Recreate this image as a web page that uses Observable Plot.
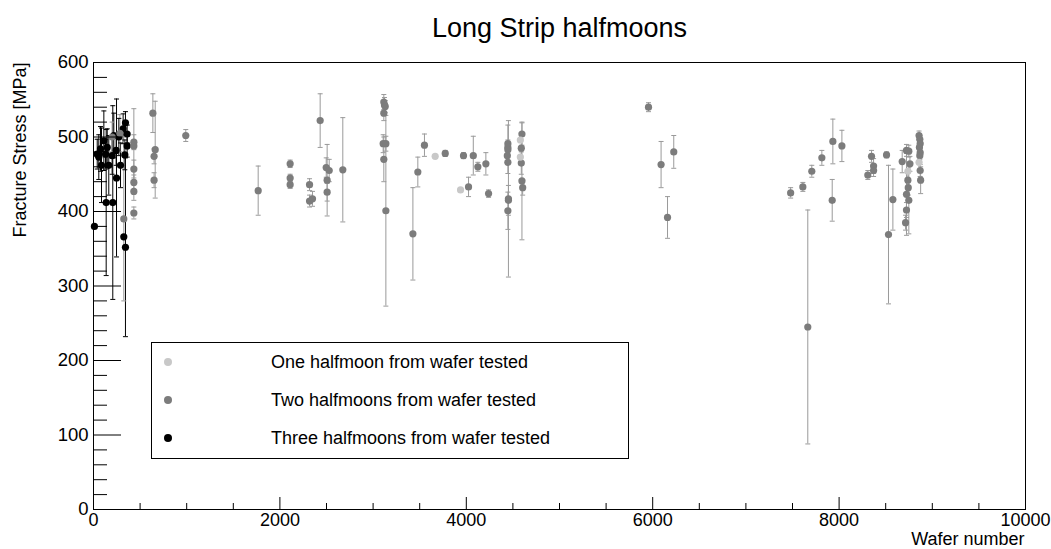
<!DOCTYPE html>
<html>
<head>
<meta charset="utf-8">
<script src="https://cdn.jsdelivr.net/npm/d3@7"></script>
<script src="https://cdn.jsdelivr.net/npm/@observablehq/plot@0.6"></script>
<style>
  body { margin: 0; background: #fff; }
  #wrap { position: relative; width: 1051px; height: 549px; }
  .legend { position: absolute; left: 151px; top: 342px; width: 476px; height: 115px;
            border: 1px solid #000; background: #fff;
            font-family: "Liberation Sans", Arial, sans-serif; font-size: 18px; color: #000; }
  .row { position: absolute; left: 0; height: 20px; width: 100%; }
  .mk { position: absolute; left: 12px; top: 6px; width: 8px; height: 8px; border-radius: 50%; }
  .lb { position: absolute; left: 119px; top: 0; line-height: 20px; white-space: nowrap; }
</style>
</head>
<body>
<div id="wrap"></div>
<script>
// ---- data ----
const title = "Long Strip halfmoons";
const xLabel = "Wafer number";
const yLabel = "Fracture Stress [MPa]";
const seriesNames = ["One halfmoon from wafer tested", "Two halfmoons from wafer tested", "Three halfmoons from wafer tested"];
const seriesColors = ["#c8c8c8", "#7c7c7c", "#000000"];
const errColors = ["#c8c8c8", "#9a9a9a", "#000000"];

const xTicks = [0, 2000, 4000, 6000, 8000, 10000];
const yTicks = [0, 100, 200, 300, 400, 500, 600];

const oneWafer  = [3666, 3938, 4580, 4580, 8738, 8858];
const oneStress = [474, 429, 496, 473, 454, 466];
const oneErr    = [0, 0, 0, 0, 0, 0];

const twoWafer = [200, 283, 325, 433, 433, 433, 433, 433, 433, 637, 662, 650, 650, 990, 1767,
  2110, 2110, 2110, 2318, 2318, 2350, 2432, 2497, 2529, 2507, 2507, 2675,
  3115, 3122, 3130, 3115, 3108, 3137, 3115, 3137, 3427, 3480, 3551, 3774, 3970, 4024, 4075, 4124, 4210, 4239,
  4446, 4446, 4446, 4440, 4446, 4452, 4452, 4446, 4597, 4590, 4590, 4597, 4605,
  5955, 6090, 6226, 6159, 7480, 7611, 7707, 7664, 7815, 7933, 7926, 8030,
  8308, 8348, 8370, 8370, 8509, 8530, 8577, 8677, 8723, 8748, 8760, 8738, 8742, 8723, 8748, 8723, 8713,
  8858, 8866, 8870, 8862, 8870, 8866, 8870, 8875];
const twoStress = [500, 505, 390, 493, 488, 457, 439, 427, 398, 532, 483, 474, 442, 502, 428,
  464, 445, 436, 436, 414, 417, 522, 459, 455, 442, 426, 456,
  547, 543, 541, 532, 491, 491, 470, 401, 370, 453, 489, 478, 475, 433, 475, 460, 464, 424,
  491, 486, 483, 475, 466, 417, 415, 401, 504, 485, 465, 441, 432,
  540, 463, 480, 392, 425, 433, 454, 245, 472, 494, 415, 488,
  449, 474, 461, 455, 476, 369, 416, 467, 482, 481, 464, 442, 432, 423, 415, 402, 385,
  502, 497, 491, 486, 479, 475, 455, 442];
const twoErr = [20, 25, 110, 10, 50, 12, 10, 12, 8, 26, 65, 10, 10, 8, 33,
  5, 5, 5, 8, 8, 10, 36, 13, 15, 48, 12, 70,
  10, 10, 8, 10, 12, 10, 30, 128, 62, 20, 15, 4, 4, 13, 26, 6, 15, 5,
  25, 10, 8, 10, 15, 105, 20, 25, 15, 20, 15, 79, 10,
  6, 31, 22, 28, 7, 6, 8, 157, 10, 30, 28, 21,
  6, 8, 10, 8, 4, 93, 41, 15, 8, 8, 10, 10, 10, 55, 45, 10, 10,
  6, 5, 5, 5, 5, 5, 8, 18];

const threeWafer  = [10, 136, 207, 247, 325, 343, 343, 318, 272, 75, 111, 57, 86, 164, 129, 200, 243, 290, 361, 361, 336, 147, 40, 218];
const threeStress = [380, 412, 412, 445, 366, 352, 519, 511, 500, 484, 495, 473, 462, 462, 477, 475, 482, 462, 504, 488, 476, 486, 477, 502];
const threeErr    = [0, 98, 130, 106, 0, 120, 15, 20, 25, 30, 40, 30, 50, 40, 20, 25, 20, 30, 12, 15, 20, 25, 20, 30];

// ---- build table ----
const series = [
  {k: 0, w: oneWafer, s: oneStress, e: oneErr},
  {k: 1, w: twoWafer, s: twoStress, e: twoErr},
  {k: 2, w: threeWafer, s: threeStress, e: threeErr}
];
const rows = series.flatMap(({k, w, s, e}) => w.map((x, i) => ({k, x, y: s[i], e: e[i]})));
const order = [2, 1, 0];
const ordered = order.flatMap(k => rows.filter(r => r.k === k));
const withErr = ordered.filter(r => r.e > 0);

const W = 1051, H = 549;
const mL = 93, mR = 26, mT = 62, mB = 40;
const fw = W - mL - mR, fh = H - mT - mB;
const font = "Liberation Sans, Arial, sans-serif";

const cap = {draw(ctx, size) { const r = Math.sqrt(size / Math.PI); ctx.moveTo(-r, 0); ctx.lineTo(r, 0); }};

const xMinor = d3.range(0, 10001, 500).filter(v => !xTicks.includes(v));
const yMinor = d3.range(0, 601, 20).filter(v => !yTicks.includes(v));

const chart = Plot.plot({
  width: W, height: H,
  marginLeft: mL, marginRight: mR, marginTop: mT, marginBottom: mB,
  style: {fontFamily: font, fontSize: "18px", background: "#fff", color: "#000", overflow: "visible"},
  x: {domain: [0, 10000]},
  y: {domain: [0, 600]},
  marks: [
    Plot.ruleX(withErr, {x: "x", y1: d => d.y - d.e, y2: d => d.y + d.e, stroke: d => errColors[d.k], strokeWidth: 1}),
    Plot.dot(withErr, {x: "x", y: d => d.y - d.e, symbol: cap, r: 2.5, stroke: d => errColors[d.k], fill: "none", strokeWidth: 1}),
    Plot.dot(withErr, {x: "x", y: d => d.y + d.e, symbol: cap, r: 2.5, stroke: d => errColors[d.k], fill: "none", strokeWidth: 1}),
    Plot.dot(ordered, {x: "x", y: "y", r: 3.6, fill: d => seriesColors[d.k], stroke: "none"}),
    Plot.tickX(xTicks, {x: d => d, insetTop: fh - 12, stroke: "#000"}),
    Plot.tickX(xMinor, {x: d => d, insetTop: fh - 6, stroke: "#000"}),
    Plot.tickY(yTicks, {y: d => d, insetRight: fw - 28, stroke: "#000"}),
    Plot.tickY(yMinor, {y: d => d, insetRight: fw - 14, stroke: "#000"}),
    Plot.axisX({ticks: xTicks, tickSize: 0, tickPadding: 4, tickFormat: d => `${d}`, label: null, fontSize: 18}),
    Plot.axisY({ticks: yTicks, tickSize: 0, tickPadding: 5, tickFormat: d => `${d}`, label: null, fontSize: 18.5}),
    Plot.frame({stroke: "#000"}),
    Plot.text([title], {frameAnchor: "top", lineAnchor: "middle", dy: -34, fontSize: 27, fill: "#000"}),
    Plot.text([yLabel], {frameAnchor: "top-left", lineAnchor: "middle", rotate: -90, textAnchor: "end", dx: -73, dy: 0, fontSize: 18, fill: "#000"}),
    Plot.text([xLabel], {frameAnchor: "bottom-right", lineAnchor: "middle", textAnchor: "end", dx: -1, dy: 30, fontSize: 18, fill: "#000"})
  ]
});

const wrap = document.getElementById("wrap");
wrap.appendChild(chart);

const leg = document.createElement("div");
leg.className = "legend";
seriesNames.forEach((name, i) => {
  const row = document.createElement("div");
  row.className = "row";
  row.style.top = (9 + i * 38) + "px";
  const mk = document.createElement("div");
  mk.className = "mk";
  mk.style.background = seriesColors[i];
  const lb = document.createElement("div");
  lb.className = "lb";
  lb.textContent = name;
  row.appendChild(mk); row.appendChild(lb);
  leg.appendChild(row);
});
wrap.appendChild(leg);
</script>
</body>
</html>
